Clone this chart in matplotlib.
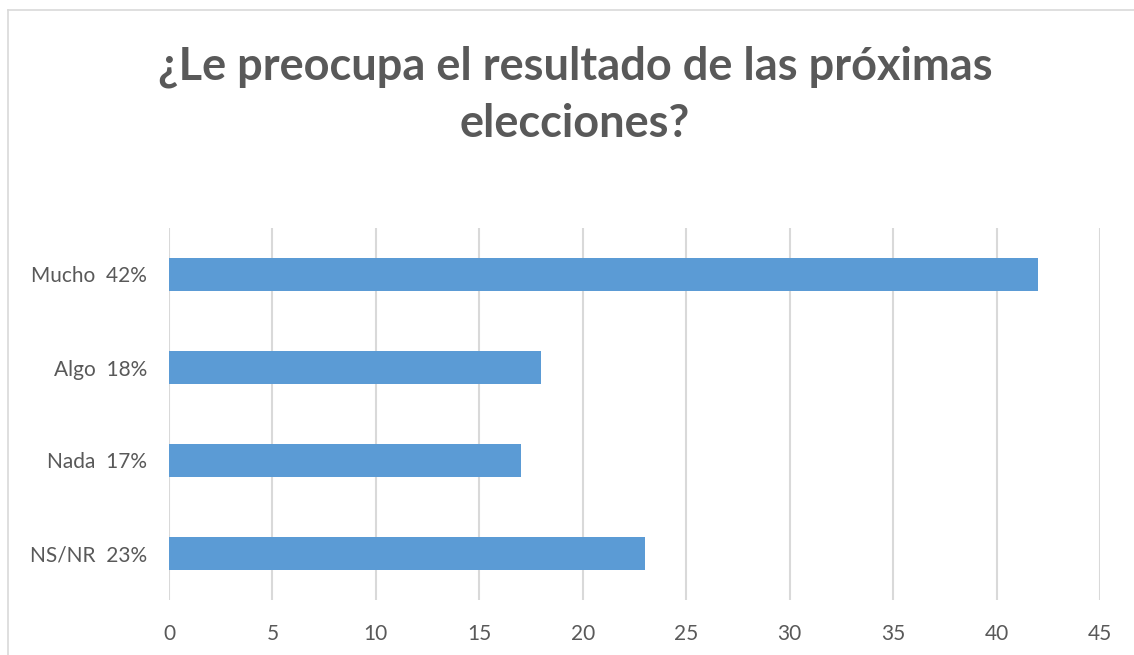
import matplotlib.pyplot as plt
from matplotlib.lines import Line2D

plt.rcParams['font.family'] = ['Lato', 'DejaVu Sans']

categorias = ['Mucho  42%', 'Algo  18%', 'Nada  17%', 'NS/NR  23%']
valores = [42, 18, 17, 23]
ticks_x = [0, 5, 10, 15, 20, 25, 30, 35, 40, 45]

W, H = 1134, 655
fig = plt.figure(figsize=(W / 100, H / 100), dpi=100)
ax = fig.add_axes([169 / W, (H - 600) / H, (1100 - 169) / W, (600 - 228) / H])

pos = list(range(len(categorias)))
ax.barh(pos, valores, height=0.36, color='#5B9BD5', zorder=3)
ax.set_ylim(len(categorias) - 0.5, -0.5)
ax.set_yticks(pos)
ax.set_yticklabels(categorias)
ax.set_xlim(0, 45)
ax.set_xticks(ticks_x)

ax.grid(axis='x', color='#D9D9D9', linewidth=1.5, zorder=0)
for s in ax.spines.values():
    s.set_visible(False)
ax.tick_params(axis='both', length=0, labelsize=15, labelcolor='#595959')
ax.tick_params(axis='y', pad=16)
ax.tick_params(axis='x', pad=17)

fig.text(575 / W, 1 - 95 / H, '¿Le preocupa el resultado de las próximas\nelecciones?',
         ha='center', va='center', fontsize=32.5, fontweight='bold', color='#595959',
         linespacing=1.45)

# borde del área de gráfico
fig.add_artist(Line2D([8 / W, 8 / W], [0, 1 - 10 / H], transform=fig.transFigure,
                      color='#D9D9D9', linewidth=1.2))
fig.add_artist(Line2D([8 / W, 1], [1 - 10 / H, 1 - 10 / H], transform=fig.transFigure,
                      color='#D9D9D9', linewidth=1.2))

fig.savefig('out.png', dpi=100)
